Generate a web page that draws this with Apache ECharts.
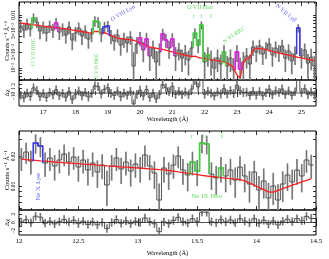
<!DOCTYPE html>
<html><head><meta charset="utf-8">
<script src="https://cdn.jsdelivr.net/npm/echarts@6/dist/echarts.min.js"></script>
<style>html,body{margin:0;padding:0;background:#fff}#c{width:329px;height:259px}</style>
</head><body><div id="c"></div>
<script>
// ---------- upper panel data (0.1 Å bins) ----------
const topWave = [16.3,16.4,16.5,16.6,16.7,16.8,16.9,17.0,17.1,17.2,
17.3,17.4,17.5,17.6,17.7,17.8,17.9,18.0,18.1,18.2,
18.3,18.4,18.5,18.6,18.7,18.8,18.9,19.0,19.1,19.2,
19.3,19.4,19.5,19.6,19.7,19.8,19.9,20.0,20.1,20.2,
20.3,20.4,20.5,20.6,20.7,20.8,20.9,21.0,21.1,21.2,
21.3,21.4,21.5,21.6,21.7,21.8,21.9,22.0,22.1,22.2,
22.3,22.4,22.5,22.6,22.7,22.8,22.9,23.0,23.1,23.2,
23.3,23.4,23.5,23.6,23.7,23.8,23.9,24.0,24.1,24.2,
24.3,24.4,24.5,24.6,24.7,24.8,24.9,25.0,25.1,25.2,
25.3,25.4];
const topFlux = [0.00620,0.00521,0.00676,0.00544,0.00877,0.00737,0.00499,0.00594,0.00457,0.00620,
0.00521,0.00706,0.00477,0.00544,0.00419,0.00594,0.00337,0.00457,0.00568,0.00401,
0.00499,0.00352,0.00438,0.00770,0.00737,0.00438,0.00594,0.00620,0.00401,0.00323,
0.00419,0.00271,0.00352,0.00296,0.00384,0.00109,0.00284,0.00368,0.00219,0.00352,
0.00168,0.00238,0.00130,0.00200,0.00438,0.00337,0.00238,0.00352,0.00168,0.00219,
0.00154,0.00192,0.00142,0.00238,0.00457,0.00271,0.00647,0.00130,0.00176,0.00142,
0.00100,0.00154,0.00119,0.00200,0.00109,0.00154,0.00092,0.00200,0.00096,0.00130,
0.00168,0.00119,0.00249,0.00200,0.00260,0.00184,0.00228,0.00284,0.00176,0.00238,
0.00200,0.00260,0.00154,0.00209,0.00136,0.00184,0.00568,0.00168,0.00219,0.00124,
0.00161,0.00109];
const topErr = [0.0016,0.0015,0.0017,0.0015,0.0019,0.0017,0.0015,0.0016,0.0014,0.0016,
0.0015,0.0017,0.0014,0.0015,0.0013,0.0016,0.0012,0.0014,0.0015,0.0013,
0.0014,0.0012,0.0013,0.0017,0.0017,0.0013,0.0015,0.0015,0.0012,0.0011,
0.0012,0.0010,0.0011,0.0010,0.0011,0.0009,0.0010,0.0011,0.0009,0.0011,
0.0008,0.0009,0.0008,0.0009,0.0011,0.0010,0.0009,0.0010,0.0008,0.0008,
0.0007,0.0008,0.0007,0.0008,0.0010,0.0008,0.0011,0.0007,0.0007,0.0007,
0.0006,0.0007,0.0006,0.0007,0.0006,0.0007,0.0006,0.0007,0.0006,0.0007,
0.0007,0.0006,0.0008,0.0007,0.0008,0.0007,0.0008,0.0008,0.0007,0.0008,
0.0007,0.0008,0.0007,0.0007,0.0006,0.0007,0.0010,0.0007,0.0007,0.0006,
0.0007,0.0006];
const topModel = [0.00703,0.00691,0.00679,0.00664,0.00653,0.00642,0.00628,0.00617,0.00607,0.00597,
0.00586,0.00576,0.00566,0.00556,0.00546,0.00537,0.00523,0.00510,0.00499,0.00486,
0.00473,0.00463,0.00457,0.00488,0.00488,0.00467,0.00465,0.00436,0.00412,0.00387,
0.00368,0.00360,0.00354,0.00347,0.00341,0.00334,0.00315,0.00297,0.00281,0.00264,
0.00250,0.00242,0.00236,0.00229,0.00224,0.00217,0.00208,0.00201,0.00194,0.00187,
0.00180,0.00174,0.00169,0.00164,0.00168,0.00159,0.00153,0.00150,0.00147,0.00144,
0.00141,0.00138,0.00134,0.00130,0.00122,0.00115,0.00100,0.00074,0.00065,0.00124,
0.00154,0.00154,0.00219,0.00236,0.00233,0.00229,0.00223,0.00213,0.00205,0.00197,
0.00191,0.00186,0.00180,0.00175,0.00169,0.00164,0.00159,0.00155,0.00150,0.00146,
0.00142,0.00138];
const topResid = [-0.52,-1.13,-0.02,-0.80,1.18,0.56,-0.86,-0.14,-1.07,0.14,
-0.43,0.76,-0.64,-0.08,-0.98,0.36,-1.55,-0.38,0.46,-0.65,
0.19,-0.93,-0.15,1.66,1.46,-0.22,0.86,1.23,-0.09,-0.58,
0.43,-0.89,-0.02,-0.51,0.39,-2.50,-0.31,0.65,-0.69,0.80,
-1.03,-0.04,-1.33,-0.32,1.95,1.20,0.33,1.51,-0.33,0.40,
-0.37,0.23,-0.39,0.93,2.89,1.40,4.50,-0.29,0.41,-0.03,
-0.68,0.23,-0.25,1.00,-0.22,0.56,-0.13,1.80,0.52,0.09,
0.20,-0.58,0.38,-0.51,0.34,-0.64,0.06,0.89,-0.41,0.51,
0.13,0.93,-0.37,0.49,-0.55,0.29,4.10,0.19,0.99,-0.37,
0.27,-0.48];
// highlighted line bins: [from Å, to Å, colour key]
const topLines = [[16.7,16.7,'g'],[17.4,17.4,'m'],[18.6,18.7,'g'],[18.9,19.0,'b'],[20.0,20.0,'m'],
[20.2,20.2,'m'],[20.7,20.8,'m'],[21.0,21.0,'m'],[21.7,21.9,'g'],[22.1,22.1,'g'],[22.6,22.6,'g'],
[23.0,23.1,'m'],[24.9,24.9,'b']];
// annotations: [text, Å, flux, rotation, colour key]
const topLabels = [['O VII RRC',16.71,0.00200,90,'g'],['O VII Heβ',18.64,0.00104,90,'g'],
['O VIII Lyα',19.47,0.0109,30,'b'],['O VII Heα',21.86,0.0141,0,'g'],
['r',21.67,0.0092,0,'g'],['i',21.89,0.0092,0,'g'],['f',22.20,0.0092,0,'g'],
['N VI RRC',22.91,0.00419,35,'g'],['N VII Lyβ',24.52,0.0109,-40,'b']];
const topYTicks = [0.0006,0.0007,0.0008,0.0009,0.001,0.002,0.003,0.004,0.005,0.006,0.007,0.008,0.009,0.01];
const topYLabels = [0.001,0.002,0.005,0.01];

// ---------- lower panel data (0.04 Å bins) ----------
const botWave = [12.02,12.06,12.10,12.14,12.18,12.22,12.26,12.30,12.34,12.38,
12.42,12.46,12.50,12.54,12.58,12.62,12.66,12.70,12.74,12.78,
12.82,12.86,12.90,12.94,12.98,13.02,13.06,13.10,13.14,13.18,
13.22,13.26,13.30,13.34,13.38,13.42,13.46,13.50,13.54,13.58,
13.62,13.66,13.70,13.74,13.78,13.82,13.86,13.90,13.94,13.98,
14.02,14.06,14.10,14.14,14.18,14.22,14.26,14.30,14.34,14.38,
14.42,14.46];
const botFlux = [0.01932,0.02218,0.01803,0.02732,0.02549,0.01721,0.01932,0.01606,0.01845,0.02119,
0.01761,0.01977,0.01569,0.01845,0.01464,0.01721,0.01398,0.01644,0.01036,0.01606,
0.01932,0.01499,0.01761,0.01431,0.01682,0.01534,0.02070,0.01606,0.01366,0.00732,
0.01534,0.01335,0.01644,0.02023,0.01464,0.01305,0.01761,0.01431,0.02732,0.02670,
0.01335,0.01217,0.01534,0.01275,0.01464,0.01162,0.01569,0.01275,0.01060,0.01398,
0.00923,0.01136,0.00767,0.01012,0.00732,0.01060,0.01305,0.01110,0.01464,0.01275,
0.01845,0.01644];
const botErr = [0.0050,0.0053,0.0048,0.0060,0.0058,0.0047,0.0050,0.0046,0.0049,0.0052,
0.0047,0.0050,0.0045,0.0049,0.0044,0.0047,0.0043,0.0046,0.0040,0.0046,
0.0050,0.0044,0.0047,0.0043,0.0046,0.0044,0.0051,0.0045,0.0042,0.0034,
0.0044,0.0041,0.0045,0.0050,0.0042,0.0041,0.0047,0.0042,0.0058,0.0057,
0.0041,0.0039,0.0044,0.0040,0.0043,0.0039,0.0044,0.0040,0.0037,0.0041,
0.0035,0.0038,0.0032,0.0036,0.0032,0.0036,0.0040,0.0037,0.0042,0.0040,
0.0047,0.0044];
const botModel = [0.01880,0.01862,0.01845,0.01828,0.01811,0.01795,0.01778,0.01761,0.01749,0.01733,
0.01721,0.01705,0.01694,0.01678,0.01667,0.01655,0.01640,0.01629,0.01614,0.01602,
0.01588,0.01576,0.01562,0.01552,0.01541,0.01527,0.01516,0.01502,0.01492,0.01478,
0.01468,0.01447,0.01424,0.01401,0.01379,0.01360,0.01338,0.01317,0.01296,0.01275,
0.01260,0.01246,0.01228,0.01214,0.01201,0.01187,0.01170,0.01141,0.01084,0.01031,
0.00980,0.00931,0.00885,0.00879,0.00914,0.00953,0.00991,0.01031,0.01070,0.01113,
0.01155,0.01201];
const botResid = [0.10,0.67,-0.09,1.51,1.27,-0.16,0.31,-0.34,0.20,0.74,
0.09,0.54,-0.28,0.34,-0.46,0.14,-0.56,0.03,-1.45,0.01,
0.69,-0.18,0.42,-0.28,0.31,0.02,1.09,0.23,-0.30,-2.19,
0.15,-0.27,0.49,1.24,0.20,-0.13,0.90,0.27,2.48,2.45,
0.18,-0.07,0.70,0.15,0.61,-0.06,0.91,0.34,-0.06,0.90,
-0.16,0.54,-0.37,0.37,-0.57,0.30,0.79,0.21,0.94,0.41,
1.47,1.01];
const botLines = [[12.14,12.18,'b'],[13.46,13.58,'g'],[13.70,13.70,'g']];
const botLabels = [['Ne X Lyα',12.16,0.0099,90,'b'],['Ne IX Heα',13.58,0.0080,0,'g'],
['r',13.456,0.0321,0,'g'],['i',13.557,0.0321,0,'g'],['f',13.709,0.0321,0,'g']];
const botYTicks = [0.006,0.007,0.008,0.009,0.01,0.02,0.03];
const botYLabels = [0.005,0.01,0.02];

const residTicks = [-2,-1,0,1,2];
const topResidLabels = [-2,-1,0,1,2];
const botResidLabels = [-2,0,2];

// ---------- styling ----------
const COL = {g:'#3fd23f', b:'#3636ee', m:'#e81ee8'};
const RED = '#ff1f1f';
const FONT = 'Liberation Serif, DejaVu Serif, serif';
const L = Math.log10;

const TOP_X = [16.25, 25.45], BOT_X = [12, 14.5];
const TOP_Y = [-3.226, -1.755], BOT_Y = [-2.2356, -1.4432];
const RES_Y = [-3, 3];

const yLabelText = {0.001:'10⁻³', 0.002:'2×10⁻³', 0.005:'5×10⁻³', 0.01:'0.01', 0.02:'0.02'};
function logFmt(v) {
  let best = null, bd = 1e9;
  for (const k in yLabelText) { const d = Math.abs(Math.log10(+k) - v); if (d < bd) { bd = d; best = k; } }
  return yLabelText[best];
}
function resFmt(v) { return String(Math.round(v)).replace('-', '\u2212'); }

const grids = [
  {left:19, top:2, width:297, height:78},
  {left:19, top:80, width:297, height:26},
  {left:19, top:131, width:297, height:79},
  {left:19, top:210, width:297, height:25}
].map(g => Object.assign({show:true, borderColor:'#000', borderWidth:1, backgroundColor:'transparent', containLabel:false, outerBoundsMode:'none'}, g));

const xAxis = [], yAxis = [];
function addX(grid, ext, extra, labelOpt, name, nameGap) {
  const common = Object.assign({type:'value', gridIndex:grid, min:ext[0], max:ext[1],
    axisLine:{show:false}, splitLine:{show:false}, nameMoveOverlap:false,
    axisTick:{show:true, inside:true, length:4, lineStyle:{color:'#000', width:0.8}},
    minorTick:{show:true, splitNumber:5, length:2, lineStyle:{color:'#000', width:0.7}}}, extra);
  xAxis.push(Object.assign({}, common, {position:'bottom',
    axisLabel: Object.assign({show:!!labelOpt, color:'#000', fontSize:7, fontFamily:FONT, margin:3, hideOverlap:false}, labelOpt||{}),
    name: name || '', nameLocation:'middle', nameGap: nameGap || 10,
    nameTextStyle:{fontSize:6.5, fontFamily:FONT, color:'#000'}}));
  xAxis.push(Object.assign({}, common, {position:'top', axisLabel:{show:false}}));
}
function addY(grid, ext, ticks, labels, fmt, name, nameGap) {
  const common = {type:'value', gridIndex:grid, min:ext[0], max:ext[1],
    axisLine:{show:false}, splitLine:{show:false}, nameMoveOverlap:false,
    axisTick:{show:true, inside:true, length:3, customValues:ticks, lineStyle:{color:'#000', width:0.8}}};
  yAxis.push(Object.assign({}, common, {position:'left',
    axisLabel:{show:true, customValues:labels, formatter:fmt, rotate:90, fontSize:5.5, color:'#000', fontFamily:FONT, margin:2, hideOverlap:false},
    name, nameLocation:'middle', nameRotate:90, nameGap,
    nameTextStyle:{fontSize:6.5, fontFamily:FONT, color:'#000'}}));
  yAxis.push(Object.assign({}, common, {position:'right', axisLabel:{show:false}}));
}

addX(0, TOP_X, {splitNumber:9}, null);
addX(1, TOP_X, {splitNumber:9}, {showMinLabel:false, showMaxLabel:false}, 'Wavelength (Å)', 10);
addX(2, BOT_X, {interval:0.5}, null);
addX(3, BOT_X, {interval:0.5}, {}, 'Wavelength (Å)', 14.5);

addY(0, TOP_Y, topYTicks.map(L), topYLabels.map(L), logFmt, 'Counts s⁻¹ Å⁻¹', 8.5);
addY(1, RES_Y, residTicks, topResidLabels, resFmt, 'Δχ', 8.5);
addY(2, BOT_Y, botYTicks.map(L), botYLabels.map(L), logFmt, 'Counts s⁻¹ Å⁻¹', 8.5);
addY(3, RES_Y, residTicks, botResidLabels, resFmt, 'Δχ', 8.5);

// ---------- series builders ----------
function clampLog(v, lo, hi) { const l = v > 0 ? Math.log10(v) : lo; return Math.min(Math.max(l, lo), hi); }

function histSeries(g, wave, vals, lows, highs, binW) {
  const data = wave.map((w, i) => [w, vals[i], i > 0 ? vals[i-1] : vals[i],
    i < vals.length - 1 ? vals[i+1] : vals[i], lows[i], highs[i]]);
  return {type:'custom', xAxisIndex:2*g, yAxisIndex:2*g, clip:true, silent:true, z:2,
    renderItem: function(params, api) {
      const x = api.value(0), v = api.value(1), nx = api.value(3), lo = api.value(4), hi = api.value(5);
      const a = api.coord([x - binW/2, v]), b = api.coord([x + binW/2, v]), c = api.coord([x + binW/2, nx]);
      const p = api.coord([x, lo]), q = api.coord([x, hi]);
      return {type:'group', children:[
        {type:'line', shape:{x1:p[0], y1:p[1], x2:q[0], y2:q[1]}, style:{stroke:'#9a9a9a', lineWidth:1.8}},
        {type:'line', shape:{x1:p[0], y1:p[1], x2:q[0], y2:q[1]}, style:{stroke:'#555', lineWidth:0.6}},
        {type:'line', shape:{x1:a[0], y1:a[1], x2:b[0], y2:b[1]}, style:{stroke:'#555', lineWidth:1}},
        {type:'line', shape:{x1:b[0], y1:b[1], x2:c[0], y2:c[1]}, style:{stroke:'#555', lineWidth:1}}
      ]};
    }, data};
}
function lineHiSeries(g, wave, logs, ranges, binW) {
  const keys = ['g','b','m'];
  const data = [];
  wave.forEach((w, i) => {
    ranges.forEach(r => {
      if (w >= r[0] - 1e-6 && w <= r[1] + 1e-6) {
        data.push([w, logs[i], i > 0 ? logs[i-1] : logs[i], i < logs.length-1 ? logs[i+1] : logs[i], keys.indexOf(r[2])]);
      }
    });
  });
  return {type:'custom', xAxisIndex:2*g, yAxisIndex:2*g, clip:true, silent:true, z:5,
    renderItem: function(params, api) {
      const x = api.value(0), v = api.value(1), pv = api.value(2), nx = api.value(3), ci = api.value(4);
      const a0 = api.coord([x - binW/2, pv]), a = api.coord([x - binW/2, v]),
            b = api.coord([x + binW/2, v]), b0 = api.coord([x + binW/2, nx]);
      return {type:'polyline', shape:{points:[a0, a, b, b0]}, style:{stroke:COL[keys[ci]], lineWidth:1.4, fill:'none'}};
    }, data};
}
function modelSeries(g, wave, model) {
  return {type:'line', xAxisIndex:2*g, yAxisIndex:2*g, data: wave.map((w, i) => [w, L(model[i])]),
    showSymbol:false, symbol:'none', silent:true, z:4, clip:true,
    lineStyle:{color:RED, width:1.3}, itemStyle:{color:RED}};
}
function zeroSeries(g, ext) {
  return {type:'line', xAxisIndex:2*g, yAxisIndex:2*g, data:[[ext[0], 0], [ext[1], 0]],
    symbol:'none', silent:true, z:3, lineStyle:{color:'#222', width:0.8}};
}
function labelSeries(g, list, fontSize) {
  return {type:'scatter', xAxisIndex:2*g, yAxisIndex:2*g, symbolSize:0, silent:true, z:10,
    data: list.map(a => ({value:[a[1], L(a[2])],
      label:{show:true, formatter:a[0], rotate:a[3], color:COL[a[4]]}})),
    label:{show:true, position:'inside', fontSize, fontFamily:FONT}};
}

function mainSet(g, wave, flux, err, model, ranges, labels, yExt, binW, fs) {
  const logs = flux.map(v => clampLog(v, yExt[0]-0.3, yExt[1]+0.3));
  const lows = flux.map((v, i) => clampLog(v - err[i], yExt[0]-0.3, yExt[1]+0.3));
  const highs = flux.map((v, i) => clampLog(v + err[i], yExt[0]-0.3, yExt[1]+0.3));
  return [histSeries(g, wave, logs, lows, highs, binW), modelSeries(g, wave, model),
          lineHiSeries(g, wave, logs, ranges, binW), labelSeries(g, labels, fs)];
}
function residSet(g, wave, res, binW, ext) {
  const r = res.map(v => Math.min(Math.max(v, -3.6), 3.6));
  const lows = res.map(v => Math.min(Math.max(v - 1, -3.6), 3.6));
  const highs = res.map(v => Math.min(Math.max(v + 1, -3.6), 3.6));
  return [histSeries(g, wave, r, lows, highs, binW), zeroSeries(g, ext)];
}

const series = [].concat(
  mainSet(0, topWave, topFlux, topErr, topModel, topLines, topLabels, TOP_Y, 0.1, 6),
  residSet(1, topWave, topResid, 0.1, TOP_X),
  mainSet(2, botWave, botFlux, botErr, botModel, botLines, botLabels, BOT_Y, 0.04, 7),
  residSet(3, botWave, botResid, 0.04, BOT_X)
);

const chart = echarts.init(document.getElementById('c'), null, {renderer:'canvas'});
chart.setOption({animation:false, backgroundColor:'#fff', grid:grids, xAxis, yAxis, series});
</script></body></html>
